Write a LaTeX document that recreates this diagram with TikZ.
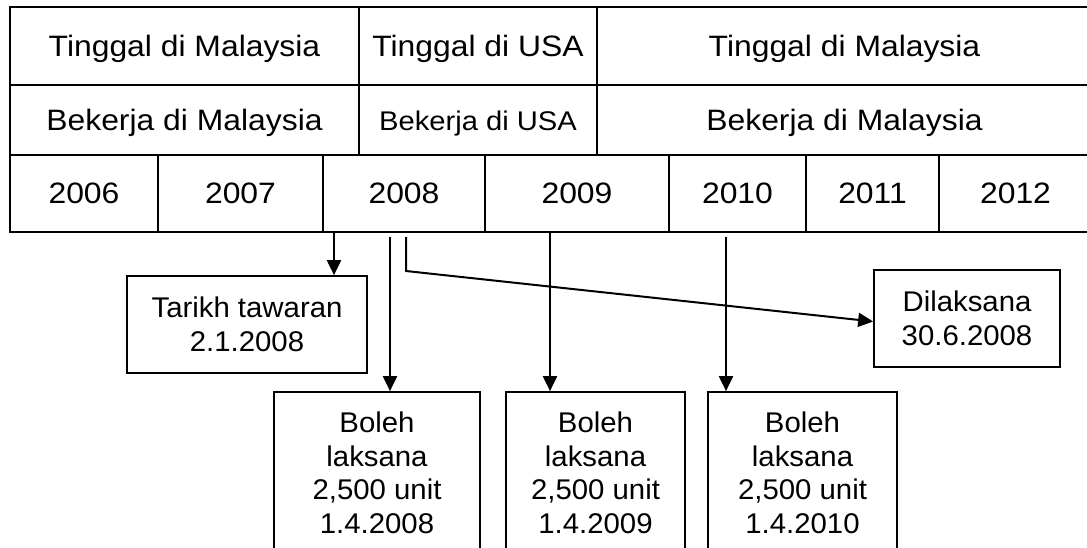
\documentclass[tikz,border=0pt]{standalone}
\usepackage{fontspec}
\setmainfont{Liberation Sans}
\newfontfamily\tabfont[FakeStretch=1.08]{Liberation Sans}
\newfontfamily\boxfont[FakeStretch=1.03]{Liberation Sans}
\usetikzlibrary{arrows.meta,calc}
\begin{document}
\begin{tikzpicture}[x=1pt,y=-1pt,
  cell/.style={draw, line width=2pt, inner sep=0pt, text height=21pt, text depth=1pt,
    font=\tabfont\fontsize{29.5}{35}\selectfont},
  infobox/.style={draw, line width=1.7pt, inner sep=0pt, align=center,
    font=\boxfont\fontsize{28.5}{33.5}\selectfont},
  arr/.style={line width=2pt, -{Triangle[width=14pt,length=15pt]}}]
\useasboundingbox (0,0) rectangle (1087,547);
\clip (0,0) rectangle (1087,547);
% row 1
\node[cell, minimum width=349pt, minimum height=78pt] (r1a) at (184.5,46) {Tinggal di Malaysia};
\node[cell, minimum width=238pt, minimum height=78pt] (r1b) at (478,46) {Tinggal di USA};
\node[cell, minimum width=495pt, minimum height=78pt] (r1c) at (844.5,46) {Tinggal di Malaysia};
% row 2
\node[cell, minimum width=349pt, minimum height=70pt] (r2a) at (184.5,120) {Bekerja di Malaysia};
\node[cell, minimum width=238pt, minimum height=70pt, font=\tabfont\fontsize{27}{32}\selectfont] (r2b) at (478,120) {Bekerja di USA};
\node[cell, minimum width=495pt, minimum height=70pt] (r2c) at (844.5,120) {Bekerja di Malaysia};
% row 3
\node[cell, minimum width=148pt, minimum height=77pt] (y06) at (84,193.5) {2006};
\node[cell, minimum width=165pt, minimum height=77pt] (y07) at (240.5,193.5) {2007};
\node[cell, minimum width=162pt, minimum height=77pt] (y08) at (404,193.5) {2008};
\node[cell, minimum width=184pt, minimum height=77pt] (y09) at (577,193.5) {2009};
\node[cell, minimum width=137pt, minimum height=77pt] (y10) at (737.5,193.5) {2010};
\node[cell, minimum width=133pt, minimum height=77pt] (y11) at (872.5,193.5) {2011};
\node[cell, minimum width=153pt, minimum height=77pt] (y12) at (1015.5,193.5) {2012};
% boxes
\node[infobox, minimum width=240pt, minimum height=97pt] (tar) at (247,324.5) {Tarikh tawaran\\2.1.2008};
\node[infobox, minimum width=186pt, minimum height=97pt] (dil) at (967,318.5) {Dilaksana\\30.6.2008};
\node[infobox, minimum width=206pt, minimum height=162pt] (b1) at (377,473) {Boleh\\laksana\\2,500 unit\\1.4.2008};
\node[infobox, minimum width=179pt, minimum height=162pt] (b2) at (595.5,473) {Boleh\\laksana\\2,500 unit\\1.4.2009};
\node[infobox, minimum width=189pt, minimum height=162pt] (b3) at (802.5,473) {Boleh\\laksana\\2,500 unit\\1.4.2010};
% arrows
\coordinate (s1) at (334,232);
\coordinate (s2) at (390,237);
\coordinate (s3) at (406,237);
\coordinate (k3) at (406,271);
\coordinate (s4) at (550,232);
\coordinate (s5) at (726,237);
\draw[arr] (s1) -- (s1 |- tar.north);
\draw[arr] (s2) -- (s2 |- b1.north);
\draw[arr] (s3) -- (k3) -- ($(dil.west)+(0,3)$);
\draw[arr] (s4) -- (s4 |- b2.north);
\draw[arr] (s5) -- (s5 |- b3.north);
\end{tikzpicture}
\end{document}
